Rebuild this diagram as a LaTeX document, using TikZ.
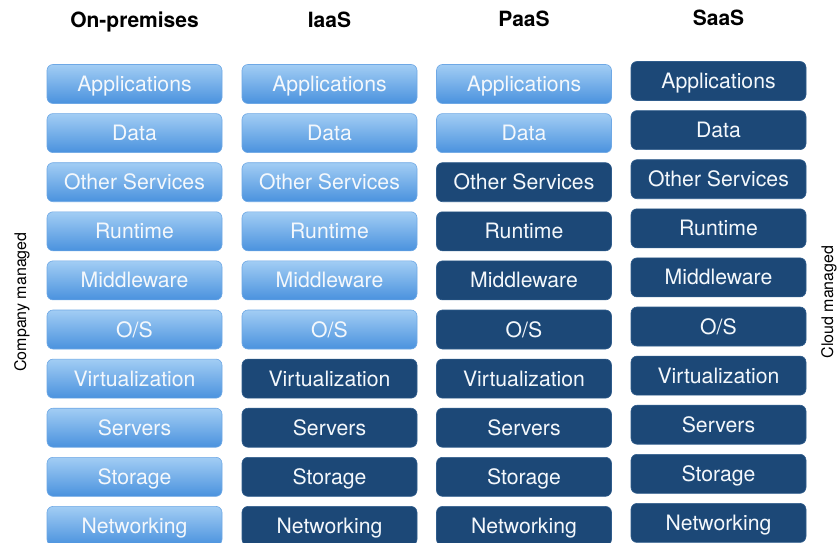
\documentclass[tikz,border=0pt]{standalone}
\usepackage{fontspec}
\setmainfont{TeX Gyre Heros}
\definecolor{lighttop}{HTML}{A2CDF4}
\definecolor{lightbot}{HTML}{4A92DE}
\definecolor{darkfill}{HTML}{1C4877}
\definecolor{darkedge}{HTML}{2F5C8C}
\definecolor{boxtext}{HTML}{F4F8FC}
\tikzset{
  layer/.style={rounded corners=6pt, minimum width=175pt, minimum height=39pt,
    inner sep=0pt, text=boxtext, font=\fontsize{21.2}{23}\selectfont,
    text height=15pt, text depth=0pt, anchor=center},
  userlayer/.style={layer, top color=lighttop, bottom color=lightbot, draw=lightbot!80!white, line width=0.6pt},
  cloudlayer/.style={layer, fill=darkfill, draw=darkedge, line width=0.6pt},
  colhead/.style={font=\bfseries\fontsize{21}{24}\selectfont, anchor=base},
  sidelabel/.style={font=\fontsize{16}{18}\selectfont, rotate=90, anchor=center}
}
\begin{document}
\begin{tikzpicture}[x=1pt, y=-1pt]
\useasboundingbox (0,0) rectangle (840,543);
\fill[white] (0,0) rectangle (840,543);

% column headings
\node[colhead] (h1) at (134.5,28) {On-premises};
\node[colhead] (h2) at (329.5,28) {IaaS};
\node[colhead] (h3) at (524,27) {PaaS};
\node[colhead] (h4) at (718.5,26) {SaaS};

% stacks: column / x centre / first row y / number of company-managed rows
\foreach \c/\x/\y/\k in {1/134.5/84/10, 2/329.5/84/6, 3/524/84/2, 4/718.5/81/0}{
  \foreach \t [count=\r] in {Applications, Data, Other Services, Runtime, Middleware,
      O/S, Virtualization, Servers, Storage, Networking}{
    \pgfmathsetmacro{\yy}{\y + 49.1*(\r-1)}
    \ifnum\r>\k
      \node[cloudlayer] (c\c r\r) at (\x,\yy) {\t};
    \else
      \node[userlayer] (c\c r\r) at (\x,\yy) {\t};
    \fi
  }
}

% side labels
\node[sidelabel] (company) at (22,302) {Company managed};
\node[sidelabel] (cloud) at (829,302) {Cloud managed};
\end{tikzpicture}
\end{document}
